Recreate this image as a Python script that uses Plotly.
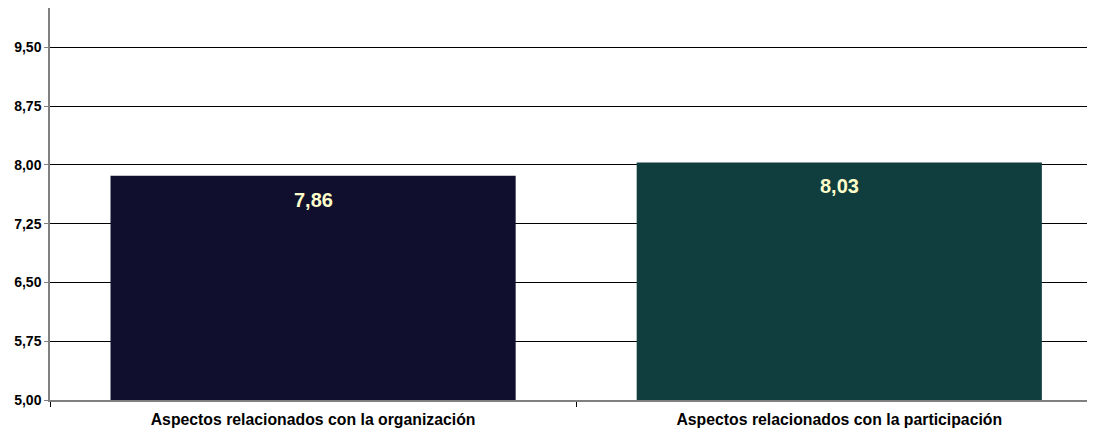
import plotly.graph_objects as go

categories = ["Aspectos relacionados con la organización", "Aspectos relacionados con la participación"]
values = [7.86, 8.03]
colors = ["#10102E", "#103E3E"]
tick_vals = [5.00, 5.75, 6.50, 7.25, 8.00, 8.75, 9.50]

fig = go.Figure()
fig.add_trace(go.Bar(
    x=categories, y=values, marker=dict(color=colors, line=dict(width=0)),
    width=0.77, hoverinfo="skip",
))
for c, v in zip(categories, values):
    fig.add_annotation(x=c, y=v, text=f"<b>{v:.2f}</b>".replace(".", ","),
                       showarrow=False, yanchor="middle", yshift=-24,
                       font=dict(family="Liberation Sans, Arial", size=20, color="#FFFFCC"))

# page body has an 8px default margin, so the figure is sized to fit the window
fig.update_layout(
    width=1087, height=428, autosize=False,
    margin=dict(l=42, r=0, t=0, b=36),
    paper_bgcolor="white", plot_bgcolor="white",
    separators=",.",
    showlegend=False,
    font=dict(family="Liberation Sans, Arial", size=12, color="black"),
)
fig.update_yaxes(
    range=[5, 10], tickvals=tick_vals, tickformat=".2f",
    showgrid=True, gridcolor="black", gridwidth=1,
    showline=True, linecolor="#808080", linewidth=1.5,
    ticks="outside", ticklen=4, tickcolor="#808080",
    zeroline=False,
    tickfont=dict(family="Liberation Sans, Arial", size=14, color="black", weight="bold"),
)
fig.update_xaxes(
    range=[-0.5, 1.486],
    showline=True, linecolor="#808080", linewidth=1.5,
    ticks="outside", tickson="boundaries", ticklen=5, tickcolor="#000000",
    showgrid=False, ticklabelstandoff=4,
    tickfont=dict(family="Liberation Sans, Arial", size=15.8, color="black", weight="bold"),
)

fig.write_html("out.html")
